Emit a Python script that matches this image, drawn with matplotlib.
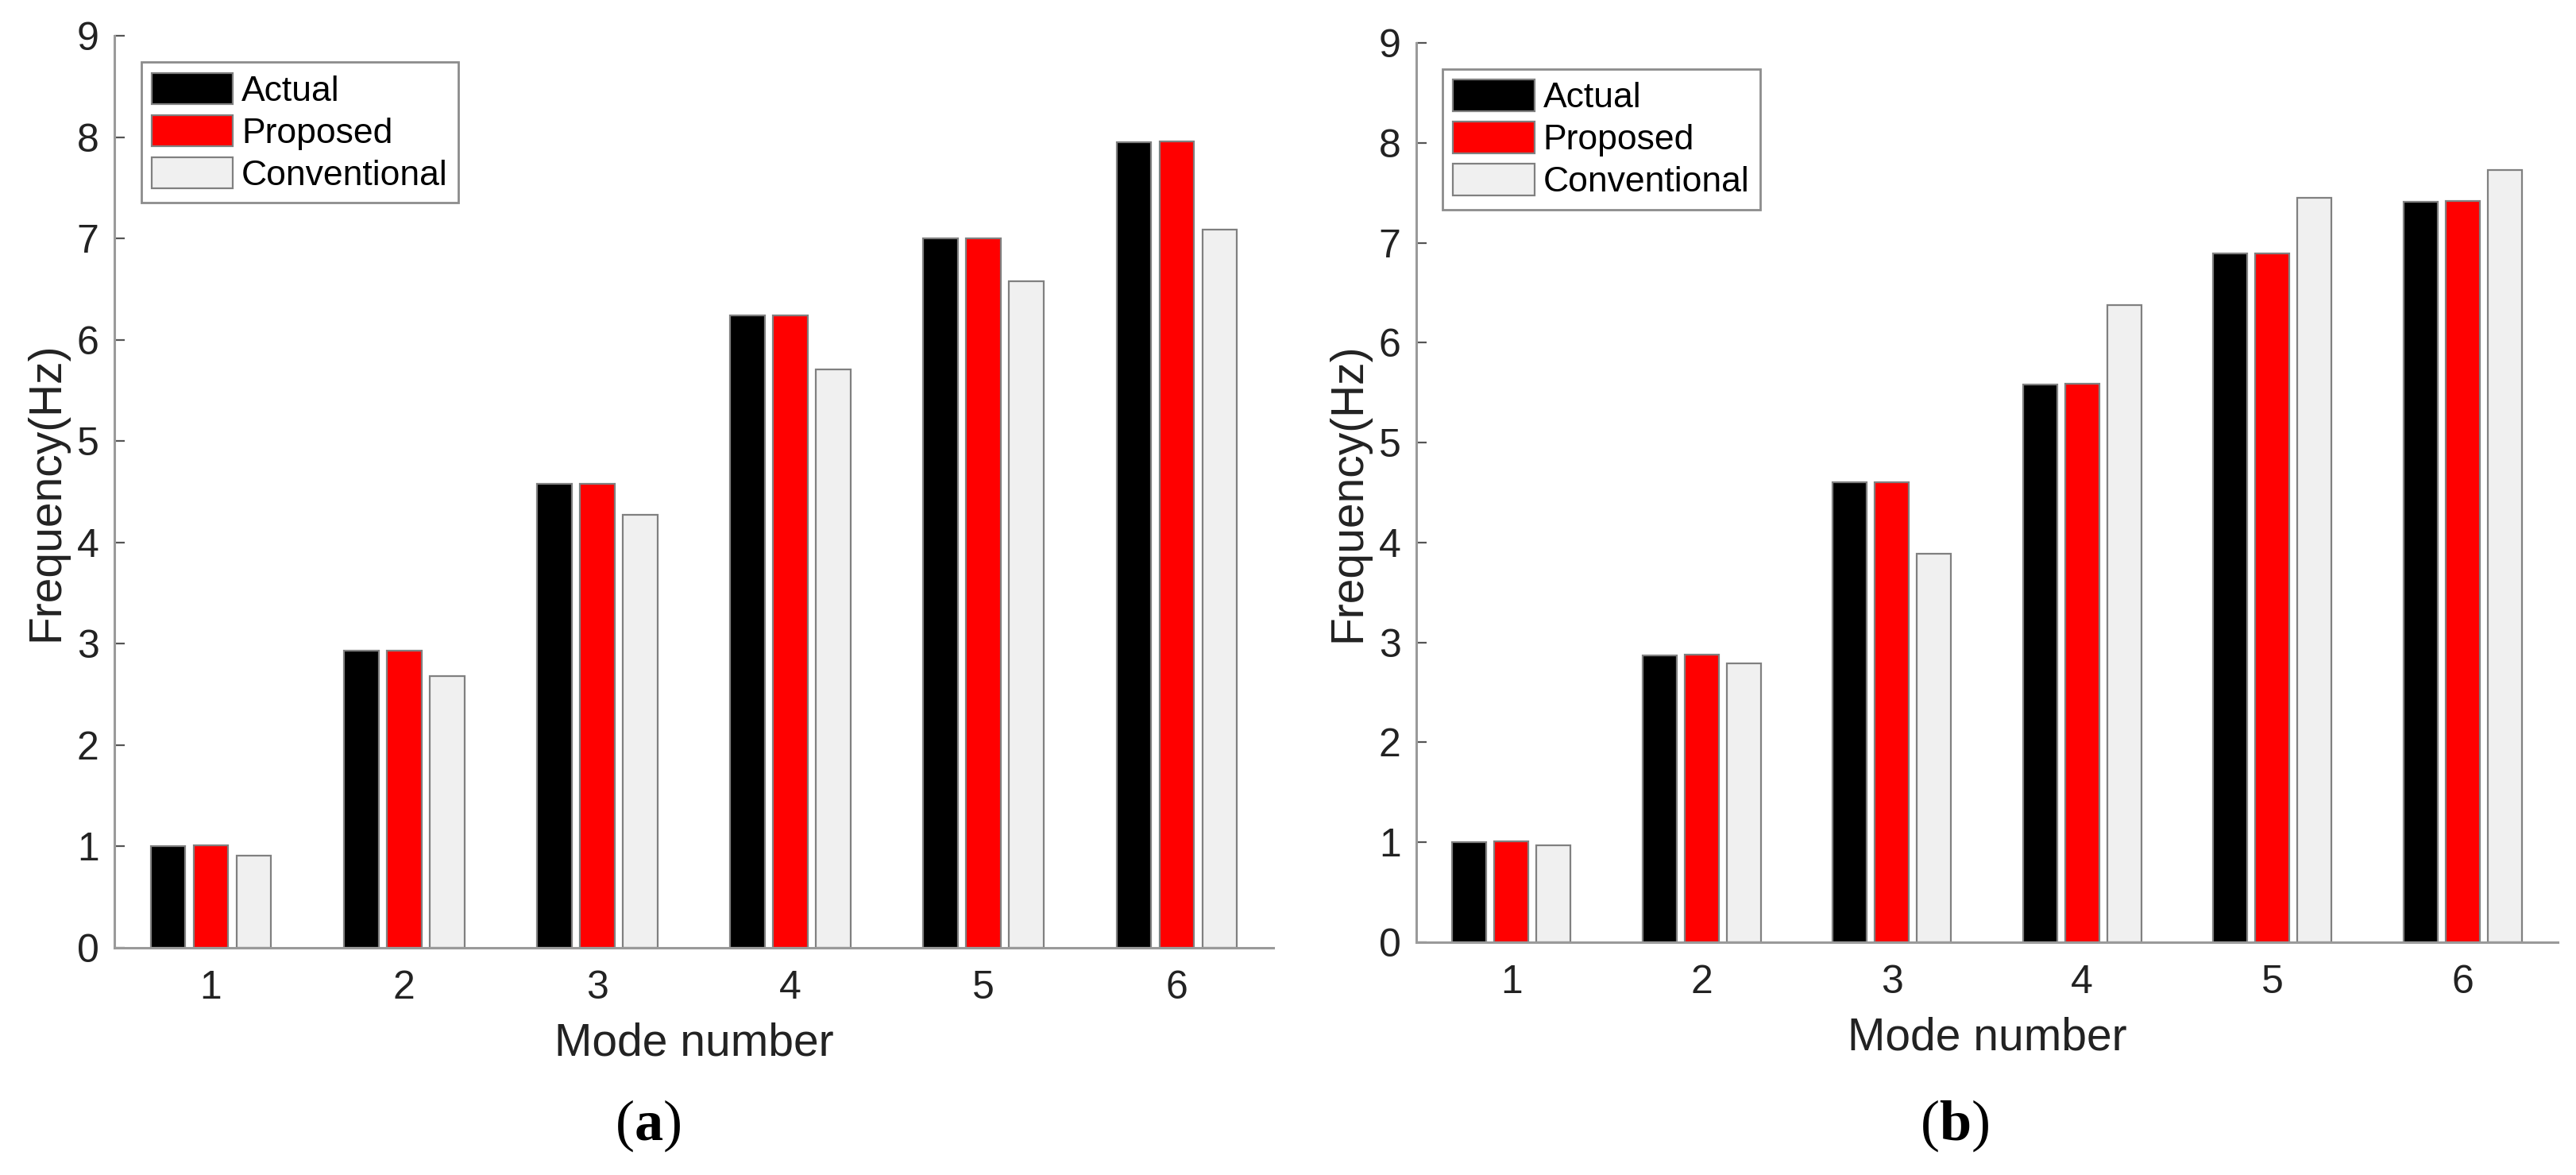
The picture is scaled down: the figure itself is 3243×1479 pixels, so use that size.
import numpy as np
import matplotlib
matplotlib.use("Agg")
import matplotlib.pyplot as plt

# Data
modes = [1, 2, 3, 4, 5, 6]
series = ["Actual", "Proposed", "Conventional"]

actual_a = [1.00, 2.93, 4.58, 6.24, 7.00, 7.95]
proposed_a = [1.01, 2.93, 4.58, 6.24, 7.00, 7.96]
conventional_a = [0.91, 2.68, 4.27, 5.71, 6.58, 7.09]

actual_b = [1.00, 2.87, 4.60, 5.58, 6.89, 7.41]
proposed_b = [1.01, 2.88, 4.60, 5.59, 6.89, 7.42]
conventional_b = [0.97, 2.79, 3.89, 6.38, 7.45, 7.73]

captions = ["a", "b"]

face_colors = ["#000000", "#ff0000", "#f0f0f0"]
edge_color = "#808080"
axis_color = "#9a9a9a"

plt.rcParams["font.family"] = ["Liberation Sans", "DejaVu Sans"]
plt.rcParams["mathtext.fontset"] = "custom"
plt.rcParams["mathtext.bf"] = "Liberation Serif:bold"
plt.rcParams["mathtext.rm"] = "Liberation Serif"

W, H = 3243, 1479
fig = plt.figure(figsize=(W / 100, H / 100), dpi=100)

# axes boxes in pixels: left, right, top, bottom
boxes = [(144, 1603, 45, 1193), (1783, 3220, 54, 1186)]
panels = [(actual_a, proposed_a, conventional_a),
          (actual_b, proposed_b, conventional_b)]
caption_x = [816, 2461]

width = 0.18
offsets = [-0.222, 0.0, 0.222]

for k, (box, data) in enumerate(zip(boxes, panels)):
    l, r, t, b = box
    ax = fig.add_axes([l / W, 1 - b / H, (r - l) / W, (b - t) / H])
    x = np.array(modes, dtype=float)
    for vals, off, fc, name in zip(data, offsets, face_colors, series):
        ax.bar(x + off, vals, width, color=fc, edgecolor=edge_color,
               linewidth=1.6, label=name, zorder=2)

    ax.set_xlim(0.5, 6.5)
    ax.set_ylim(0, 9)
    ax.set_xticks(modes)
    ax.set_yticks(range(0, 10))
    for side in ["top", "right"]:
        ax.spines[side].set_visible(False)
    for side in ["left", "bottom"]:
        ax.spines[side].set_color(axis_color)
        ax.spines[side].set_linewidth(2.2)
        ax.spines[side].set_zorder(3)
    ax.tick_params(direction="in", length=9, width=1.6, color="#555555",
                   labelsize=36, pad=14, labelcolor="#222222")
    ax.tick_params(axis="x", pad=20)
    ax.set_xlabel("Mode number", fontsize=41, color="#222222", labelpad=14)
    ax.set_ylabel("Frequency(Hz)", fontsize=41, color="#222222", labelpad=8)

    leg = ax.legend(loc="upper left", bbox_to_anchor=(0.023, 0.971),
                    borderaxespad=0, fontsize=32, fancybox=False,
                    framealpha=1, edgecolor="#8c8c8c", handlelength=2.3,
                    handleheight=1.0, handletextpad=0.25, labelspacing=0.2,
                    borderpad=0.3)
    leg.get_frame().set_linewidth(2.0)

    fig.text(caption_x[k] / W, 1 - 1417 / H, r"($\mathbf{%s}$)" % captions[k],
             fontsize=52, family="Liberation Serif", ha="center", va="center")

fig.savefig("out.png", dpi=100)
